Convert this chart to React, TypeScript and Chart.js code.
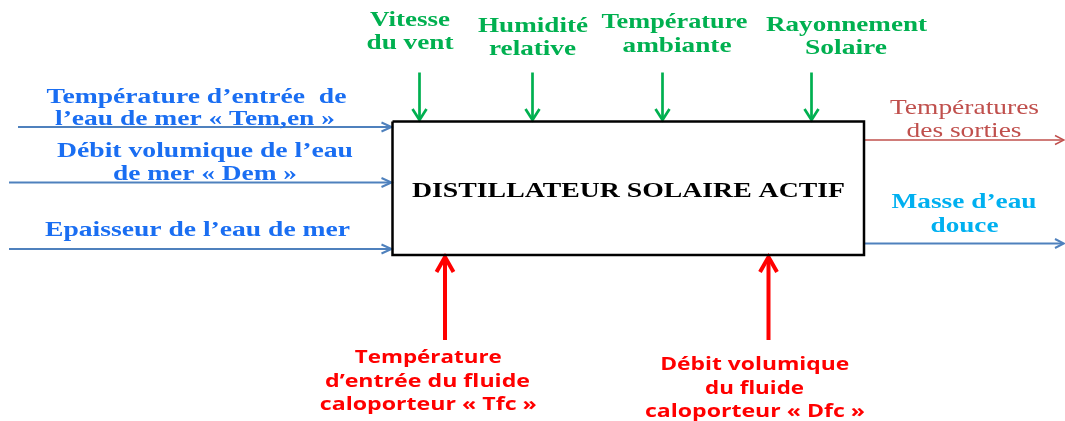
import { useEffect, useRef } from "react";
import { Chart, registerables } from "chart.js";

Chart.register(...registerables);

// ---- Diagram frame (data units = pixels of the reference) ----
const FRAME_W = 1065;
const FRAME_H = 421;

// ---- Central block ----
const blockTitle = "DISTILLATEUR SOLAIRE ACTIF";
const blockX = [392.5, 864];
const blockY = [121.5, 255];

// ---- Left inputs (sea water) : arrows go from start x to block left edge ----
const seaInputStartX = [18, 9, 9];
const seaInputY = [127, 182.5, 249];
const seaInputLabels = [
  ["Température d’entrée  de", "l’eau de mer « Tem,en »"],
  ["Débit volumique de l’eau", "de mer « Dem »"],
  ["Epaisseur de l’eau de mer"],
];

// ---- Top inputs (climate) : arrows go from top y down to block top ----
const climateX = [419.5, 532.5, 662.5, 811.5];
const climateTopY = [72.5, 72.5, 72.5, 72.5];
const climateLabels = [
  ["Vitesse", "du vent"],
  ["Humidité", "relative"],
  ["Température", "ambiante"],
  ["Rayonnement", "Solaire"],
];

// ---- Bottom inputs (heat transfer fluid) : arrows go from bottom y up to block bottom ----
const fluidX = [445, 768.5];
const fluidBottomY = [340, 340];
const fluidLabels = [
  ["Température", "d’entrée du fluide", "caloporteur « Tfc »"],
  ["Débit volumique", "du fluide", "caloporteur « Dfc »"],
];

// ---- Outputs on the right ----
const outputY = [140, 243.5];
const outputEndX = [1064, 1064];
const outputLabels = [
  ["Températures", "des sorties"],
  ["Masse d’eau", "douce"],
];

// ---- Label placement (centre x, baseline y, drawn width) ----
const seaLabelPos = [
  [[196.5, 102.7, 300], [195, 124.5, 280]],
  [[205, 156.7, 296], [205, 179.5, 184]],
  [[197.5, 236, 305]],
];
const climateLabelPos = [
  [[410, 26, 80], [410, 49, 87]],
  [[533, 31.5, 110], [532.5, 55, 87]],
  [[674.5, 27.5, 146], [677, 51.5, 109]],
  [[846.5, 30.7, 161], [846, 54.3, 82]],
];
const fluidLabelPos = [
  [[428.3, 363.3, 147], [427.5, 387.3, 205], [428.3, 410, 217]],
  [[754.7, 370, 189], [754.5, 394, 99], [755, 416.7, 220]],
];
const outputLabelPos = [
  [[964.5, 114.3, 149], [964, 136.7, 115]],
  [[964, 208.3, 145], [964.5, 231.7, 68]],
];
const titlePos = [628.5, 196.7, 433];

// ---- Styles ----
const C_SEA_ARROW = "#4f81bd";
const C_SEA_TEXT = "#1a6ef2";
const C_GREEN = "#00b050";
const C_RED = "#ff0000";
const C_OUT1 = "#c0504d";
const C_OUT2_TEXT = "#00b0f0";
const C_OUT2_ARROW = "#4f81bd";

type Pt = { x: number; y: number };

function arrowDatasets(from: Pt, to: Pt, color: string, width: number, headLen: number, headHalf: number) {
  const dx = to.x - from.x;
  const dy = to.y - from.y;
  const len = Math.hypot(dx, dy);
  const ux = dx / len;
  const uy = dy / len;
  const px = -uy;
  const py = ux;
  const base = { x: to.x - ux * headLen, y: to.y - uy * headLen };
  const shaftEnd = { x: to.x - ux * width * 0.6, y: to.y - uy * width * 0.6 };
  const common = {
    type: "line" as const,
    borderColor: color,
    backgroundColor: color,
    borderWidth: width,
    pointRadius: 0,
    pointHoverRadius: 0,
    fill: false,
    showLine: true,
    tension: 0,
    clip: false as const,
  };
  return [
    { ...common, data: [from, shaftEnd], borderCapStyle: "butt" as const },
    {
      ...common,
      data: [
        { x: base.x + px * headHalf, y: base.y + py * headHalf },
        to,
        { x: base.x - px * headHalf, y: base.y - py * headHalf },
      ],
      borderJoinStyle: "miter" as const,
      borderCapStyle: "butt" as const,
    },
  ];
}

type TextItem = { text: string; x: number; y: number; w: number; font: string; color: string };

function buildTexts(): TextItem[] {
  const out: TextItem[] = [];
  const serifB = (s: number) => `bold ${s}px "Liberation Serif", "DejaVu Serif", serif`;
  const serif = (s: number) => `${s}px "Liberation Serif", "DejaVu Serif", serif`;
  const sansB = (s: number) => `bold ${s}px "Open Sans", "Noto Sans", sans-serif`;
  seaInputLabels.forEach((lines, i) =>
    lines.forEach((t, j) => {
      const [x, y, w] = seaLabelPos[i][j];
      out.push({ text: t, x, y, w, font: serifB(22), color: C_SEA_TEXT });
    })
  );
  climateLabels.forEach((lines, i) =>
    lines.forEach((t, j) => {
      const [x, y, w] = climateLabelPos[i][j];
      out.push({ text: t, x, y, w, font: serifB(22), color: C_GREEN });
    })
  );
  fluidLabels.forEach((lines, i) =>
    lines.forEach((t, j) => {
      const [x, y, w] = fluidLabelPos[i][j];
      out.push({ text: t, x, y, w, font: sansB(17), color: C_RED });
    })
  );
  outputLabels.forEach((lines, i) =>
    lines.forEach((t, j) => {
      const [x, y, w] = outputLabelPos[i][j];
      out.push({
        text: t,
        x,
        y,
        w,
        font: i === 0 ? serif(21) : serifB(21),
        color: i === 0 ? C_OUT1 : C_OUT2_TEXT,
      });
    })
  );
  out.push({ text: blockTitle, x: titlePos[0], y: titlePos[1], w: titlePos[2], font: serifB(21), color: "#000000" });
  return out;
}

const textPlugin = {
  id: "diagramTexts",
  afterDatasetsDraw(chart: any) {
    const { ctx, scales } = chart;
    const sx = scales.x;
    const sy = scales.y;
    const items = buildTexts();
    ctx.save();
    ctx.textAlign = "center";
    ctx.textBaseline = "alphabetic";
    for (const it of items) {
      ctx.font = it.font;
      const m = ctx.measureText(it.text).width;
      const px = sx.getPixelForValue(it.x);
      const py = sy.getPixelForValue(it.y);
      const wpx = Math.abs(sx.getPixelForValue(it.w) - sx.getPixelForValue(0));
      ctx.save();
      ctx.translate(px, py);
      ctx.scale(wpx / m, 1);
      ctx.fillStyle = it.color;
      ctx.fillText(it.text, 0, 0);
      ctx.restore();
    }
    ctx.restore();
  },
};

export default function App() {
  const ref = useRef<HTMLCanvasElement | null>(null);

  useEffect(() => {
    if (!ref.current) return;
    const datasets: any[] = [];

    // central block outline
    datasets.push({
      type: "line",
      data: [
        { x: blockX[0], y: blockY[0] },
        { x: blockX[1], y: blockY[0] },
        { x: blockX[1], y: blockY[1] },
        { x: blockX[0], y: blockY[1] },
        { x: blockX[0], y: blockY[0] },
      ],
      borderColor: "#000000",
      borderWidth: 2.5,
      borderJoinStyle: "miter",
      pointRadius: 0,
      showLine: true,
      fill: false,
      tension: 0,
      clip: false,
    });

    seaInputY.forEach((y, i) => {
      datasets.push(
        ...arrowDatasets({ x: seaInputStartX[i], y }, { x: blockX[0] - 1, y }, C_SEA_ARROW, 2, 10, 4.5)
      );
    });
    climateX.forEach((x, i) => {
      datasets.push(
        ...arrowDatasets({ x, y: climateTopY[i] }, { x, y: blockY[0] - 1.5 }, C_GREEN, 2.7, 11, 7)
      );
    });
    fluidX.forEach((x, i) => {
      datasets.push(
        ...arrowDatasets({ x, y: fluidBottomY[i] }, { x, y: blockY[1] + 2 }, C_RED, 4, 15, 8.5)
      );
    });
    outputY.forEach((y, i) => {
      const color = i === 0 ? C_OUT1 : C_OUT2_ARROW;
      datasets.push(
        ...arrowDatasets({ x: blockX[1] + 1, y }, { x: outputEndX[i], y }, color, i === 0 ? 1.5 : 2, 9, 4.5)
      );
    });

    const chart = new Chart(ref.current, {
      type: "scatter",
      data: { datasets },
      options: {
        animation: false,
        responsive: false,
        events: [],
        layout: { padding: 0 },
        scales: {
          x: { type: "linear", min: 0, max: FRAME_W, display: false },
          y: { type: "linear", min: 0, max: FRAME_H, reverse: true, display: false },
        },
        plugins: {
          legend: { display: false },
          tooltip: { enabled: false },
        },
      },
      plugins: [textPlugin],
    });
    return () => chart.destroy();
  }, []);

  return (
    <div style={{ position: "fixed", left: 0, top: 0, width: FRAME_W, height: FRAME_H, background: "#ffffff" }}>
      <canvas ref={ref} width={FRAME_W} height={FRAME_H} style={{ display: "block" }} />
    </div>
  );
}
